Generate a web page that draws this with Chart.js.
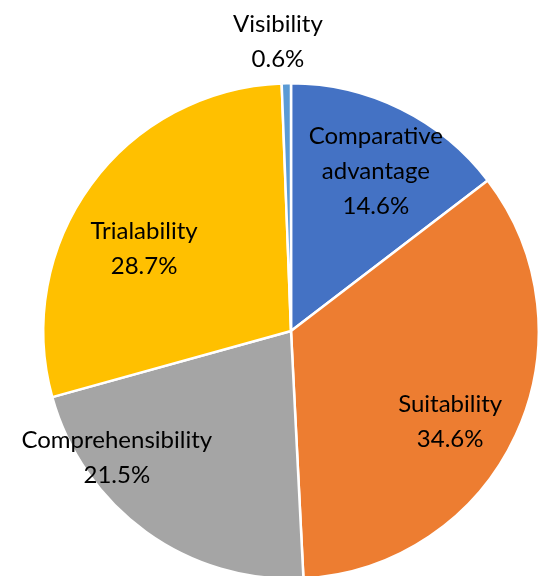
<!DOCTYPE html>
<html>
<head>
<meta charset="utf-8">
<script src="https://cdn.jsdelivr.net/npm/chart.js@4"></script>
<style>
  html, body { margin: 0; padding: 0; background: #fff; overflow: hidden; }
  #wrap { width: 540px; height: 580px; position: relative; }
</style>
</head>
<body>
<div id="wrap"><canvas id="pieChart"></canvas></div>
<script>
/* kategori & nilai (persen) */
const categories = ['Comparative advantage', 'Suitability', 'Comprehensibility', 'Trialability', 'Visibility'];
const shares = [14.6, 34.6, 21.5, 28.7, 0.6];
/* baris label per irisan */
const labelLines = [
    ['Comparative', 'advantage'],
    ['Suitability'],
    ['Comprehensibility'],
    ['Trialability'],
    ['Visibility']
];
const sliceColors = ['#4472C4', '#ED7D31', '#A5A5A5', '#FFC000', '#5B9BD5'];

/* posisi label: geser sudut (derajat) + jarak relatif terhadap radius */
const labelPlace = [
    { dAngle: 1.7, r: 0.73 },
    { dAngle: 4.9, r: 0.74 },
    { dAngle: 18.1, r: 0.87 },
    { dAngle: -6.9, r: 0.68 },
    { dAngle: -1.5, r: 1.17 }
];

const FONT = '24px Lato, "Open Sans", sans-serif';

/* plugin kecil untuk tulis label + persen */
const sliceLabels = {
    id: 'sliceLabels',
    afterDatasetsDraw(chart) {
        const { ctx } = chart;
        const meta = chart.getDatasetMeta(0);
        ctx.save();
        ctx.font = FONT;
        ctx.fillStyle = '#000';
        ctx.textAlign = 'center';
        ctx.textBaseline = 'middle';
        meta.data.forEach((arc, i) => {
            const p = arc.getProps(['x', 'y', 'startAngle', 'endAngle', 'outerRadius'], true);
            const mid = (p.startAngle + p.endAngle) / 2 + labelPlace[i].dAngle * Math.PI / 180;
            const dist = p.outerRadius * labelPlace[i].r;
            const cx = p.x + Math.cos(mid) * dist;
            const cy = p.y + Math.sin(mid) * dist;
            const lines = labelLines[i].concat([shares[i].toFixed(1) + '%']);
            const lh = 35;
            const top = cy - (lines.length - 1) * lh / 2;
            lines.forEach((t, k) => ctx.fillText(t, cx, top + k * lh));
        });
        ctx.restore();
    }
};

const ctx = document.getElementById('pieChart').getContext('2d');
new Chart(ctx, {
    type: 'pie',
    data: {
        labels: categories,
        datasets: [{
            data: shares,
            backgroundColor: sliceColors,
            borderColor: '#fff',
            borderWidth: 2.5
        }]
    },
    options: {
        animation: false,
        responsive: true,
        maintainAspectRatio: false,
        layout: {
            padding: { left: 42, right: 0, top: 82, bottom: 0 }
        },
        plugins: {
            legend: { display: false },
            tooltip: { enabled: false }
        }
    },
    plugins: [sliceLabels]
});
</script>
</body>
</html>
